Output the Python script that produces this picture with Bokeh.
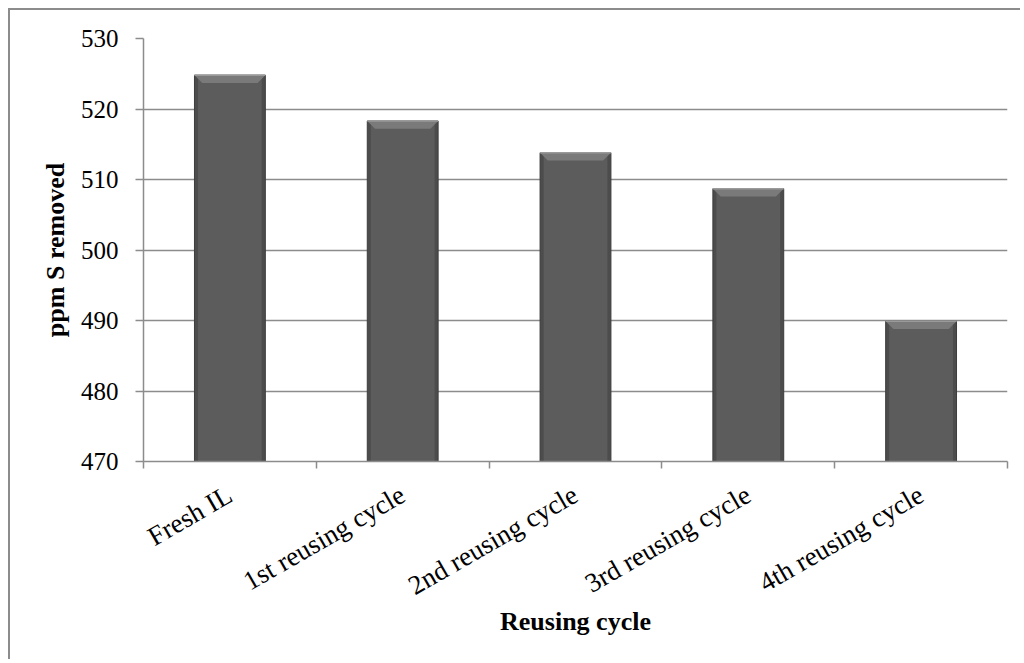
import math
from bokeh.plotting import figure
from bokeh.models import FixedTicker, Range1d
from bokeh.embed import file_html
from bokeh.resources import INLINE

# ---- data ----
categories = ["Fresh IL", "1st reusing cycle", "2nd reusing cycle",
              "3rd reusing cycle", "4th reusing cycle"]
ppm_removed = [524.8, 518.3, 513.8, 508.7, 489.9]
y_ticks = [470, 480, 490, 500, 510, 520, 530]

# ---- style constants ----
Y_MIN, Y_MAX = 470, 530
BAR_W = 0.41
BEVEL_Y = 1.1      # data units
BEVEL_X = 0.045    # data units
FONT = "Liberation Serif"
GRID = "#8c8c8c"

xs = list(range(len(categories)))

p = figure(width=1012, height=651,
           x_range=Range1d(-0.5, len(categories) - 0.5),
           y_range=Range1d(Y_MIN, Y_MAX),
           output_backend="svg", toolbar_location=None,
           min_border_left=133, min_border_right=15,
           min_border_top=28, min_border_bottom=200)
p.styles = {"border-left": "2px solid #8c8c8c", "border-top": "2px solid #8c8c8c",
            "margin-left": "8px", "margin-top": "8px"}
p.outline_line_color = None
p.background_fill_color = "white"
p.border_fill_color = "white"

# bars: dark outer body + lighter inner body + bevel on top
p.vbar(x=xs, width=BAR_W, bottom=Y_MIN, top=ppm_removed,
       fill_color="#4c4c4c", line_color="#3c3c3c", line_width=1)
p.vbar(x=xs, width=BAR_W * 0.9, bottom=Y_MIN, top=ppm_removed,
       fill_color="#5c5c5c", line_color=None)
bev_xs = [[x - BAR_W / 2, x + BAR_W / 2, x + BAR_W / 2 - BEVEL_X, x - BAR_W / 2 + BEVEL_X]
          for x in xs]
bev_ys = [[v, v, v - BEVEL_Y, v - BEVEL_Y] for v in ppm_removed]
p.patches(bev_xs, bev_ys, fill_color="#7a7a7a", line_color=None)
p.segment(x0=[x - BAR_W / 2 for x in xs], x1=[x + BAR_W / 2 for x in xs],
          y0=ppm_removed, y1=ppm_removed, line_color="#9a9a9a", line_width=1.5)

# grid
p.xgrid.visible = False
p.ygrid.ticker = FixedTicker(ticks=y_ticks)
p.ygrid.grid_line_color = GRID
p.ygrid.grid_line_width = 1.5

# y axis
p.yaxis.ticker = FixedTicker(ticks=y_ticks)
p.yaxis.axis_line_color = GRID
p.yaxis.axis_line_width = 1.5
p.yaxis.major_tick_line_color = GRID
p.yaxis.major_tick_line_width = 1.5
p.yaxis.major_tick_out = 8
p.yaxis.major_tick_in = 0
p.yaxis.minor_tick_line_color = None
p.yaxis.major_label_standoff = 17
p.yaxis.major_label_text_font = FONT
p.yaxis.major_label_text_font_size = "25px"
p.yaxis.major_label_text_color = "black"
p.yaxis.axis_label = "ppm S removed"
p.yaxis.axis_label_text_font = FONT
p.yaxis.axis_label_text_font_size = "26px"
p.yaxis.axis_label_text_font_style = "bold"
p.yaxis.axis_label_text_color = "black"
p.yaxis.axis_label_standoff = 8

# x axis
p.xaxis.ticker = FixedTicker(ticks=xs, minor_ticks=[x - 0.5 for x in xs] + [xs[-1] + 0.5])
p.xaxis.major_label_overrides = {x: c for x, c in zip(xs, categories)}
p.xaxis.major_label_orientation = math.pi / 6
p.xaxis.axis_line_color = GRID
p.xaxis.axis_line_width = 1.5
p.xaxis.major_tick_line_color = None
p.xaxis.major_tick_out = 0
p.xaxis.major_tick_in = 0
p.xaxis.minor_tick_line_color = GRID
p.xaxis.minor_tick_line_width = 1.5
p.xaxis.minor_tick_out = 7
p.xaxis.minor_tick_in = 0
p.xaxis.major_label_standoff = 24
p.xaxis.major_label_text_font = FONT
p.xaxis.major_label_text_font_size = "27px"
p.xaxis.major_label_text_color = "black"
p.xaxis.axis_label = "Reusing cycle"
p.xaxis.axis_label_text_font = FONT
p.xaxis.axis_label_text_font_size = "26px"
p.xaxis.axis_label_text_font_style = "bold"
p.xaxis.axis_label_text_color = "black"
p.xaxis.axis_label_standoff = -10

open("out.html", "w").write(file_html(p, INLINE))
